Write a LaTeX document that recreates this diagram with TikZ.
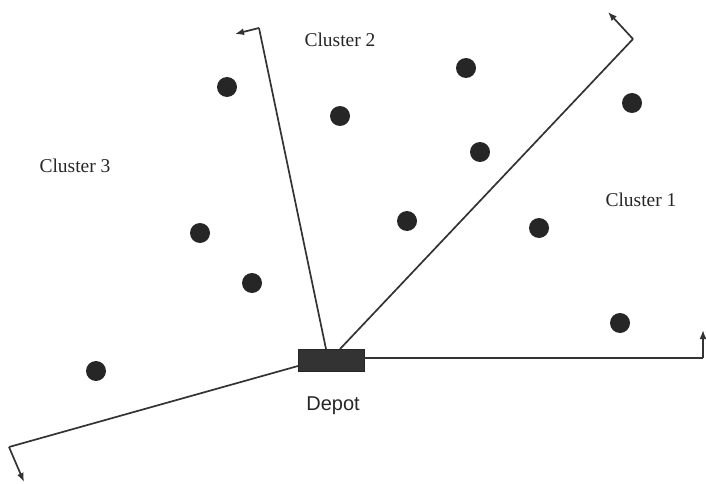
\documentclass[tikz,border=0pt]{standalone}
\usepackage{fontspec}
\setmainfont{Liberation Serif}
\setsansfont{Liberation Sans}
\usetikzlibrary{arrows.meta}
\begin{document}
\begin{tikzpicture}[x=1pt,y=-1pt,
  dot/.style={circle,fill=black!85,inner sep=0pt,minimum size=20pt},
  ray/.style={line width=1.7pt,draw=black!80},
  tipline/.style={line width=1.7pt,draw=black!80,-{Latex[length=9pt,width=7pt]}},
  clabel/.style={font=\fontsize{19.5}{22}\selectfont,text=black!85},
  dlabel/.style={font=\sffamily\fontsize{20}{22}\selectfont,text=black!85}]
\useasboundingbox (0,0) rectangle (706,484);
% depot
\node[draw=black!85,fill=black!80,minimum width=66pt,minimum height=22pt,inner sep=0pt] (depot) at (331,360) {};
\node[dlabel] (dtext) at (333,406) {Depot};
% ray endpoints
\coordinate (a1) at (326,349);
\coordinate (a2) at (259,28);
\coordinate (a3) at (235,34);
\coordinate (b1) at (340,349);
\coordinate (b2) at (633,39);
\coordinate (b3) at (608,12);
\coordinate (c1) at (364,358);
\coordinate (c2) at (703,358);
\coordinate (c3) at (703,330);
\coordinate (d1) at (298,366);
\coordinate (d2) at (9,447);
\coordinate (d3) at (24,482);
\draw[ray] (a1) -- (a2);
\draw[tipline] (a2) -- (a3);
\draw[ray] (b1) -- (b2);
\draw[tipline] (b2) -- (b3);
\draw[ray] (c1) -- (c2);
\draw[tipline] (c2) -- (c3);
\draw[ray] (d1) -- (d2);
\draw[tipline] (d2) -- (d3);
% customers
\node[dot] (p1) at (227,87) {};
\node[dot] (p2) at (340,116) {};
\node[dot] (p3) at (466,68) {};
\node[dot] (p4) at (632,103) {};
\node[dot] (p5) at (480,152) {};
\node[dot] (p6) at (200,233) {};
\node[dot] (p7) at (407,221) {};
\node[dot] (p8) at (539,228) {};
\node[dot] (p9) at (252,283) {};
\node[dot] (p10) at (620,323) {};
\node[dot] (p11) at (96,371) {};
% labels
\node[clabel] (c2l) at (340,40) {Cluster 2};
\node[clabel] (c3l) at (75,166) {Cluster 3};
\node[clabel] (c1l) at (641,200) {Cluster 1};
\end{tikzpicture}
\end{document}
